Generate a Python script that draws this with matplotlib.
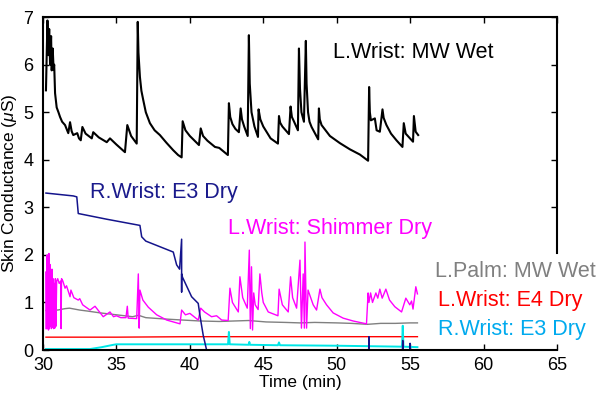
"""
Skin conductance traces from several sensors, recreated from a figure
"""

import matplotlib
matplotlib.use("Agg")
import matplotlib.pyplot as plt

plt.rcParams['font.family'] = ['Liberation Sans', 'DejaVu Sans']
plt.rcParams['mathtext.fontset'] = 'custom'
plt.rcParams['mathtext.rm'] = 'Liberation Sans'
plt.rcParams['mathtext.it'] = 'Liberation Sans:italic'

# L.Wrist: MW Wet (black)
mw_wrist_t = [30.2, 30.3, 30.36, 30.42, 30.48, 30.55, 30.59, 30.66, 30.72, 30.76,
              30.82, 30.93, 31.05, 31.16, 31.3, 31.5, 31.72, 31.84, 31.95, 32.06,
              32.33, 32.45, 32.57, 32.68, 32.9, 33.32, 33.42, 33.8, 34.34, 34.56,
              35.0, 35.58, 35.74, 36.0, 36.38, 36.45, 36.5, 36.6, 36.7, 36.83,
              37.0, 37.28, 37.6, 37.96, 38.4, 38.87, 39.2, 39.44, 39.51, 39.7,
              40.0, 40.62, 40.74, 40.9, 41.2, 41.71, 42.0, 42.59, 42.66, 42.75,
              42.9, 43.1, 43.34, 43.46, 43.55, 43.7, 43.94, 44.02, 44.08, 44.2,
              44.4, 44.64, 44.68, 44.8, 45.0, 45.5, 46.0, 46.07, 46.15, 46.3,
              46.75, 46.86, 46.95, 47.1, 47.36, 47.43, 47.5, 47.6, 47.77, 47.9,
              47.95, 48.05, 48.15, 48.29, 48.74, 48.79, 48.85, 48.97, 49.54, 50.22,
              50.9, 51.58, 52.14, 52.21, 52.26, 52.33, 52.6, 52.72, 52.94, 53.12,
              53.2, 53.39, 53.7, 54.07, 54.48, 54.57, 54.7, 55.2, 55.26, 55.38,
              55.55]
mw_wrist_v = [5.46, 6.93, 6.2, 6.75, 6.0, 6.6, 5.88, 6.34, 5.9, 6.0,
              5.4, 5.1, 5.0, 4.9, 4.8, 4.73, 4.56, 4.79, 4.6, 4.52,
              4.56, 4.45, 4.41, 4.69, 4.55, 4.45, 4.58, 4.47, 4.37, 4.45,
              4.32, 4.16, 4.73, 4.5, 4.34, 6.9, 6.25, 5.74, 5.45, 5.25,
              5.0, 4.77, 4.62, 4.52, 4.36, 4.2, 4.1, 4.05, 4.81, 4.62,
              4.5, 4.31, 4.66, 4.5, 4.4, 4.27, 4.25, 4.1, 5.19, 4.9,
              4.75, 4.65, 4.58, 5.08, 4.85, 4.7, 4.5, 6.62, 5.6, 5.0,
              4.7, 4.48, 5.06, 4.85, 4.7, 4.45, 4.34, 4.92, 4.78, 4.7,
              4.54, 5.12, 4.9, 4.8, 4.62, 6.34, 5.5, 5.0, 4.8, 6.5,
              5.6, 5.0, 4.8, 4.69, 4.43, 5.08, 4.85, 4.73, 4.5, 4.35,
              4.22, 4.11, 3.98, 5.53, 5.0, 4.83, 4.87, 4.62, 4.59, 5.06,
              4.88, 4.73, 4.55, 4.41, 4.27, 4.77, 4.55, 4.38, 4.92, 4.59,
              4.52]

# R.Wrist: E3 Dry (navy)
e3_navy_t = [30.2, 32.06, 32.3, 32.4, 34.34, 36.6, 36.72, 37.0, 38.87, 39.1,
             39.3, 39.44, 39.44, 39.44, 39.5, 40.12, 40.57, 40.7, 40.91, 41.14,
             52.18, 52.2, 52.22, 54.48, 54.5, 54.52, 54.98, 55.0, 55.02, 55.5]
e3_navy_v = [3.3, 3.24, 3.22, 2.87, 2.75, 2.62, 2.38, 2.29, 2.06, 1.79,
             1.7, 2.33, 1.22, 1.6, 1.53, 1.12, 0.98, 0.7, 0.31, 0.0,
             0.0, 0.28, 0.0, 0.0, 0.2, 0.0, 0.0, 0.14, 0.0, 0.0]

# L.Wrist: Shimmer Dry (magenta)
shimmer_t = [30.2, 30.22, 30.25, 30.28, 30.31, 30.34, 30.37, 30.4, 30.43, 30.47,
             30.5, 30.54, 30.57, 30.61, 30.64, 30.68, 30.72, 30.76, 30.8, 30.84,
             30.88, 30.93, 31.0, 31.1, 31.2, 31.23, 31.26, 31.35, 31.5, 31.6,
             31.84, 31.9, 32.1, 32.4, 32.5, 32.7, 33.2, 33.54, 34.1, 34.56,
             34.8, 35.0, 35.3, 35.65, 35.74, 35.8, 36.38, 36.49, 36.55, 36.6,
             36.8, 37.17, 37.74, 38.42, 39.33, 39.44, 39.7, 40.0, 40.57, 40.74,
             41.0, 41.48, 41.82, 42.17, 42.61, 42.73, 42.9, 43.3, 43.41, 43.6,
             43.91, 44.05, 44.12, 44.2, 44.27, 44.35, 44.45, 44.65, 44.77, 44.9,
             45.0, 45.34, 46.0, 46.08, 46.3, 46.7, 46.86, 47.0, 47.27, 47.5,
             47.6, 47.72, 47.8, 47.84, 47.95, 48.05, 48.4, 48.63, 48.86, 49.0,
             49.31, 49.76, 50.44, 51.12, 52.03, 52.14, 52.2, 52.31, 52.44, 52.67,
             52.8, 52.94, 53.1, 53.35, 53.6, 53.96, 54.42, 54.71, 54.98, 55.1,
             55.2, 55.39, 55.5]
shimmer_v = [0.45, 1.65, 0.45, 2.0, 0.5, 1.9, 0.42, 2.03, 0.45, 1.8,
             0.5, 1.6, 0.45, 1.7, 0.48, 1.5, 0.45, 1.4, 0.46, 1.5,
             0.5, 1.45, 1.5, 1.4, 1.45, 0.45, 1.5, 1.45, 1.3, 1.35,
             1.12, 1.26, 1.1, 1.05, 1.08, 0.95, 0.84, 0.92, 0.7, 0.8,
             0.7, 0.72, 0.68, 0.68, 0.92, 0.67, 0.66, 1.6, 0.46, 1.26,
             1.05, 0.9, 0.74, 0.63, 0.55, 0.84, 0.74, 0.77, 0.63, 0.88,
             0.8, 0.7, 0.72, 0.63, 0.62, 1.3, 1.0, 0.8, 1.54, 1.1,
             0.88, 2.1, 0.45, 1.75, 0.42, 1.2, 0.95, 0.85, 1.6, 1.2,
             1.0, 0.8, 0.72, 1.28, 0.95, 0.8, 1.54, 1.1, 0.88, 1.89,
             0.46, 1.6, 0.46, 2.27, 0.46, 1.26, 0.95, 0.84, 1.28, 1.1,
             0.95, 0.78, 0.67, 0.61, 0.55, 1.2, 1.0, 1.2, 1.0, 1.2,
             1.09, 1.28, 1.09, 1.28, 1.05, 0.91, 0.8, 1.09, 0.95, 1.03,
             0.86, 1.33, 1.18]

# L.Palm: MW Wet (gray)
mw_palm_t = [30.2, 30.6, 31.0, 31.5, 31.8, 32.5, 33.0, 33.9, 35.0, 36.1,
             36.5, 37.0, 38.4, 39.5, 40.7, 42.0, 43.0, 44.0, 45.2, 46.5,
             47.5, 48.5, 50.0, 51.0, 52.1, 53.0, 54.0, 55.0, 55.5]
mw_palm_v = [0.83, 0.85, 0.84, 0.87, 0.88, 0.84, 0.82, 0.78, 0.74, 0.70,
             0.73, 0.68, 0.65, 0.63, 0.61, 0.60, 0.61, 0.62, 0.59, 0.58,
             0.57, 0.58, 0.57, 0.56, 0.54, 0.56, 0.56, 0.57, 0.57]

# L.Wrist: E4 Dry (red)
e4_t = [30.2, 35.0, 40.0, 45.0, 50.0, 55.5]
e4_v = [0.27, 0.27, 0.28, 0.28, 0.28, 0.28]

# R.Wrist: E3 Dry (cyan)
e3_cyan_t = [30.2, 33.2, 34.0, 34.8, 35.0, 38.0, 42.6, 42.66, 42.72, 44.0,
             44.05, 44.1, 46.0, 46.07, 46.14, 50.0, 54.45, 54.5, 54.55, 55.5]
e3_cyan_v = [0.02, 0.02, 0.06, 0.11, 0.12, 0.12, 0.12, 0.38, 0.12, 0.11,
             0.17, 0.11, 0.1, 0.16, 0.1, 0.09, 0.07, 0.51, 0.07, 0.06]


fig = plt.figure(figsize=(6.06, 3.98), dpi=100)
ax = fig.add_axes([0.071, 0.1206, 0.848, 0.8364])

ax.plot(mw_palm_t, mw_palm_v, color='#808080', lw=1.0)
ax.plot(e4_t, e4_v, color='#ff0000', lw=1.0)
ax.plot(e3_cyan_t, e3_cyan_v, color='#00e6e6', lw=1.4)
ax.plot(shimmer_t, shimmer_v, color='#ff00ff', lw=1.0)
ax.plot(e3_navy_t, e3_navy_v, color='#14148c', lw=1.1)
ax.plot(mw_wrist_t, mw_wrist_v, color='black', lw=1.5)

ax.set_xlim(30, 65)
ax.set_ylim(0, 7)
ax.set_xticks(range(30, 66, 5))
ax.set_yticks(range(0, 8))
ax.tick_params(direction='in', length=4.5, width=1, labelsize=13, top=True,
               right=False)
ax.tick_params(axis='x', pad=5)
ax.tick_params(axis='y', pad=7)
ax.set_xlabel('Time (min)', fontsize=12.5, labelpad=1)
ax.set_ylabel(r'Skin Conductance ($\mu$S)', fontsize=12.5, labelpad=3)

for side in ['left', 'bottom', 'top']:
    ax.spines[side].set_linewidth(1.5)
ax.spines['right'].set_visible(False)

# right side only reaches down to the labels
sec = ax.secondary_yaxis('right')
sec.set_yticks([3, 4, 5, 6, 7])
sec.tick_params(direction='in', length=4.5, width=1, labelright=False)
sec.spines['right'].set_linewidth(1.5)
sec.spines['right'].set_bounds(2.05, 7)

ax.text(49.75, 6.15, 'L.Wrist: MW Wet', color='black', fontsize=15.5)
ax.text(33.2, 3.19, 'R.Wrist: E3 Dry', color='#1a1a8c', fontsize=15.5)
ax.text(42.6, 2.43, 'L.Wrist: Shimmer Dry', color='#ff00ff', fontsize=15.5)
ax.text(56.69, 1.54, 'L.Palm: MW Wet', color='#808080', fontsize=15.5)
ax.text(56.87, 0.92, 'L.Wrist: E4 Dry', color='#ff0000', fontsize=15.5)
ax.text(56.87, 0.31, 'R.Wrist: E3 Dry', color='#00aaee', fontsize=15.5)

fig.savefig('out.png', dpi=100)
